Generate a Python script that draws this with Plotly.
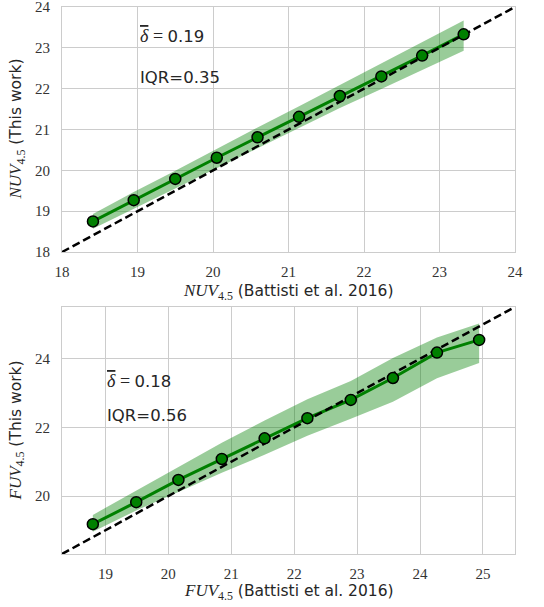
import plotly.graph_objects as go

# ---- NUV_4.5 : Battisti et al. (2016) vs. this work (binned medians + IQR band)
nuv_ref = [18.41, 18.95, 19.50, 20.05, 20.59, 21.14, 21.68, 22.23, 22.77, 23.32]
nuv_this = [18.75, 19.27, 19.79, 20.31, 20.81, 21.31, 21.82, 22.30, 22.81, 23.33]
nuv_q25 = [18.57, 19.06, 19.57, 20.07, 20.55, 21.04, 21.53, 21.99, 22.45, 22.93]
nuv_q75 = [18.93, 19.47, 19.99, 20.53, 21.05, 21.57, 22.09, 22.60, 23.13, 23.67]
nuv_delta, nuv_iqr = 0.19, 0.35
nuv_range = [18, 24]
nuv_ticks = [18, 19, 20, 21, 22, 23, 24]

# ---- FUV_4.5
fuv_ref = [18.80, 19.49, 20.16, 20.85, 21.53, 22.21, 22.90, 23.57, 24.27, 24.94]
fuv_this = [19.18, 19.82, 20.47, 21.08, 21.68, 22.27, 22.80, 23.44, 24.18, 24.55]
fuv_q25 = [18.96, 19.58, 20.12, 20.68, 21.20, 21.76, 22.25, 22.75, 23.43, 23.88]
fuv_q75 = [19.45, 20.15, 20.85, 21.55, 22.20, 22.82, 23.35, 24.02, 24.62, 25.03]
fuv_delta, fuv_iqr = 0.18, 0.56
fuv_range = [18.31, 25.51]
fuv_xticks = [19, 20, 21, 22, 23, 24, 25]
fuv_yticks = [20, 22, 24]

GREEN = "#008000"
BAND = "rgba(0,128,0,0.4)"
TXT = "#262626"
TICK = "#333333"
GRID = "#cccccc"
SERIF = "Liberation Serif"
SANS = "DejaVu Sans"

fig = go.Figure()


def add_panel(xs, ys, lo, hi, rng, xa, ya):
    # IQR band
    fig.add_trace(go.Scatter(x=xs, y=lo, mode="lines", line=dict(width=0),
                             hoverinfo="skip", showlegend=False, xaxis=xa, yaxis=ya))
    fig.add_trace(go.Scatter(x=xs, y=hi, mode="lines", line=dict(width=0),
                             fill="tonexty", fillcolor=BAND, hoverinfo="skip",
                             showlegend=False, xaxis=xa, yaxis=ya))
    # median trend
    fig.add_trace(go.Scatter(x=xs, y=ys, mode="lines", line=dict(color=GREEN, width=3),
                             showlegend=False, xaxis=xa, yaxis=ya))
    # one-to-one line
    fig.add_trace(go.Scatter(x=rng, y=rng, mode="lines",
                             line=dict(color="black", width=2.5, dash="8px,4px"),
                             showlegend=False, xaxis=xa, yaxis=ya))
    # binned points
    fig.add_trace(go.Scatter(x=xs, y=ys, mode="markers",
                             marker=dict(color=GREEN, size=11,
                                         line=dict(color="black", width=1.5)),
                             showlegend=False, xaxis=xa, yaxis=ya))


add_panel(nuv_ref, nuv_this, nuv_q25, nuv_q75, nuv_range, "x", "y")
add_panel(fuv_ref, fuv_this, fuv_q25, fuv_q75, fuv_range, "x2", "y2")

axis_common = dict(
    showgrid=True, gridcolor=GRID, gridwidth=1, zeroline=False,
    showline=True, mirror=True, linecolor=GRID, linewidth=1.25,
    ticks="", tickfont=dict(family=SERIF, size=15, color=TICK),
    ticklabeloverflow="allow", automargin=False,
)

fig.update_layout(
    width=544, height=607,
    margin=dict(l=62, r=29, t=7, b=53, autoexpand=False),
    paper_bgcolor="white", plot_bgcolor="white",
    xaxis=dict(axis_common, domain=[0, 1], anchor="y", range=nuv_range,
               tickvals=nuv_ticks, ticklabelstandoff=6),
    yaxis=dict(axis_common, domain=[0.552, 1], anchor="x", range=nuv_range,
               tickvals=nuv_ticks, ticklabelstandoff=8),
    xaxis2=dict(axis_common, domain=[0, 1], anchor="y2", range=fuv_range,
                tickvals=fuv_xticks, ticklabelstandoff=6),
    yaxis2=dict(axis_common, domain=[0, 0.4516], anchor="x2", range=fuv_range,
                tickvals=fuv_yticks, ticklabelstandoff=8),
)


def mathlabel(band, tail):
    return (f"<span style='font-family:{SERIF};font-size:17px'><i>{band}</i>"
            f"<sub>4.5</sub></span> ({tail})")


title_font = dict(family=SANS, size=15.5, color=TXT)
stat_font = dict(family=SANS, size=16.5, color=TXT)

annotations = []
for band, xa, ya, yshift in [("NUV", "x", "y", -40), ("FUV", "x2", "y2", -38)]:
    annotations.append(dict(text=mathlabel(band, "Battisti et al. 2016"),
                            xref=f"{xa} domain", yref=f"{ya} domain", x=0.5, y=0,
                            xanchor="center", yanchor="middle", yshift=yshift,
                            showarrow=False, font=title_font))
    annotations.append(dict(text=mathlabel(band, "This work"), textangle=-90,
                            xref=f"{xa} domain", yref=f"{ya} domain", x=0, y=0.5,
                            xanchor="center", yanchor="middle", xshift=-45,
                            showarrow=False, font=title_font))

for xa, ya, d, iqr in [("x", "y", nuv_delta, nuv_iqr), ("x2", "y2", fuv_delta, fuv_iqr)]:
    annotations.append(dict(
        text=(f"<span style='font-family:{SERIF};font-size:18px;"
              f"text-decoration:overline'><i>\u03b4</i></span>"
              f"<span style='font-family:{SERIF};font-size:18px'> = </span>{d:.2f}"),
        xref=xa, yref=ya, x=19, y=23, xanchor="left", yanchor="bottom",
        showarrow=False, font=stat_font))
    annotations.append(dict(
        text=f"IQR={iqr:.2f}",
        xref=xa, yref=ya, x=19, y=22, xanchor="left", yanchor="bottom",
        showarrow=False, font=stat_font))

fig.update_layout(annotations=annotations)

fig.write_html("out.html")
